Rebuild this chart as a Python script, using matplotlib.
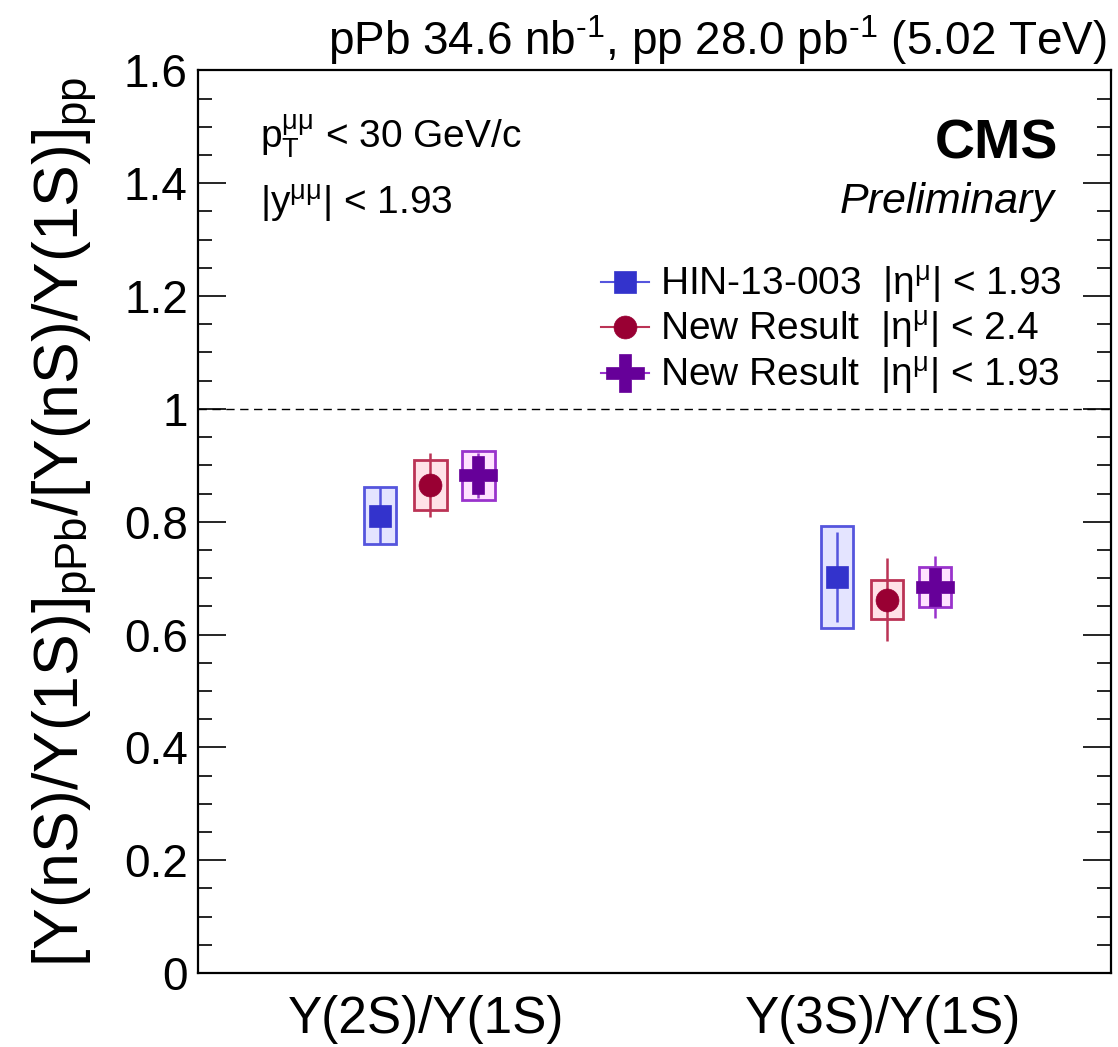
import matplotlib
matplotlib.use('Agg')
import matplotlib.pyplot as plt
from matplotlib.lines import Line2D
from matplotlib.ticker import MultipleLocator

plt.rcParams['font.family'] = ['Liberation Sans', 'DejaVu Sans']
plt.rcParams['mathtext.default'] = 'regular'

# Dobbelt-ratio per tilstand
kategorier = ['Υ(2S)/Υ(1S)', 'Υ(3S)/Υ(1S)']
kat_x = [0.5, 1.5]

# HIN-13-003, |eta| < 1.93
hin_verdi = [0.811, 0.702]
hin_stat = [0.050, 0.080]
hin_syst = [0.051, 0.090]

# Nytt resultat, |eta| < 2.4
ny24_verdi = [0.865, 0.662]
ny24_stat = [0.056, 0.073]
ny24_syst = [0.044, 0.034]

# Nytt resultat, |eta| < 1.93
ny193_verdi = [0.882, 0.684]
ny193_stat = [0.040, 0.055]
ny193_syst = [0.044, 0.036]

serier = [
    # verdier, stat, syst, forskyvning, markor, str, farge, kantfarge, fyllfarge, etikett
    (hin_verdi, hin_stat, hin_syst, -0.10, 's', 16, '#3333CC', '#5555DD', '#E4E4FF',
     r'HIN-13-003  |η$^{μ}$| < 1.93'),
    (ny24_verdi, ny24_stat, ny24_syst, 0.01, 'o', 16.5, '#990033', '#BB3355', '#FFE2E8',
     r'New Result  |η$^{μ}$| < 2.4'),
    (ny193_verdi, ny193_stat, ny193_syst, 0.115, 'P', 27, '#660099', '#9933CC', '#FFE2FF',
     r'New Result  |η$^{μ}$| < 1.93'),
]

fig = plt.figure(figsize=(11.18, 10.47), dpi=100)
ax = fig.add_axes([0.1767, 0.0707, 0.9937 - 0.1767, 0.9327 - 0.0707])

boks_bredde = 0.071
handles = []
for verdi, stat, syst, dx, mk, ms, farge, kant, fyll, etikett in serier:
    xs = [k + dx for k in kat_x]
    bunn = [v - s for v, s in zip(verdi, syst)]
    hoyde = [2 * s for s in syst]
    # syst-boks, stat-linje og markor
    ax.bar(xs, hoyde, bottom=bunn, width=boks_bredde, color=fyll,
           edgecolor=kant, linewidth=2, zorder=2)
    ax.errorbar(xs, verdi, yerr=stat, fmt='none', ecolor=kant, elinewidth=1.8,
                capsize=0, zorder=3)
    ax.plot(xs, verdi, linestyle='none', marker=mk, markersize=ms, color=farge,
            markeredgewidth=0.5, markeredgecolor=farge, zorder=4)
    handles.append(Line2D([0], [0], color=kant, linewidth=1.5, marker=mk,
                          markersize=ms, markerfacecolor=farge,
                          markeredgecolor=farge, markeredgewidth=0.5, label=etikett))

# Linje ved 1
ax.axhline(1.0, color='black', linestyle=(0, (6, 4)), linewidth=1.0, zorder=1)

ax.set_xlim(0, 2)
ax.set_ylim(0, 1.6)
ax.set_xticks(kat_x)
ax.set_xticklabels(kategorier, fontsize=37)
ax.yaxis.set_major_locator(MultipleLocator(0.2))
ax.yaxis.set_minor_locator(MultipleLocator(0.05))
ax.set_yticks([0, 0.2, 0.4, 0.6, 0.8, 1.0, 1.2, 1.4, 1.6])
ax.set_yticklabels(['0', '0.2', '0.4', '0.6', '0.8', '1', '1.2', '1.4', '1.6'])
ax.tick_params(axis='y', which='major', direction='in', length=20, width=1.2,
               labelsize=33, pad=7, right=True)
ax.tick_params(axis='y', which='minor', direction='in', length=10, width=1.2, right=True)
ax.tick_params(axis='x', length=0, pad=16)
for s in ax.spines.values():
    s.set_linewidth(1.6)

ax.set_ylabel(r'[Υ(nS)/Υ(1S)]$_{pPb}$/[Υ(nS)/Υ(1S)]$_{pp}$', fontsize=45)
ax.yaxis.set_label_coords(-0.108, 0.5)

ax.legend(handles=handles, loc='upper left', bbox_to_anchor=(0.4414, 0.786),
          frameon=False, fontsize=28, handlelength=1.25, handletextpad=0.27,
          labelspacing=0.09, borderaxespad=0, borderpad=0)

# Tekst
fig.text(0.990, 0.9475, r'pPb 34.6 nb$^{‐1}$, pp 28.0 pb$^{‐1}$ (5.02 TeV)',
         fontsize=33, ha='right', va='baseline')
fig.text(0.9463, 0.849, 'CMS', fontsize=40, fontweight='bold', ha='right', va='baseline')
fig.text(0.9436, 0.7966, 'Preliminary', fontsize=31, fontstyle='italic',
         ha='right', va='baseline')
fig.text(0.233, 0.8595, r'p$_{T}^{μμ}$ < 30 GeV/c', fontsize=28, ha='left', va='baseline')
fig.text(0.233, 0.7946, r'|y$^{μμ}$| < 1.93', fontsize=28, ha='left', va='baseline')

fig.savefig('out.png', dpi=100)
